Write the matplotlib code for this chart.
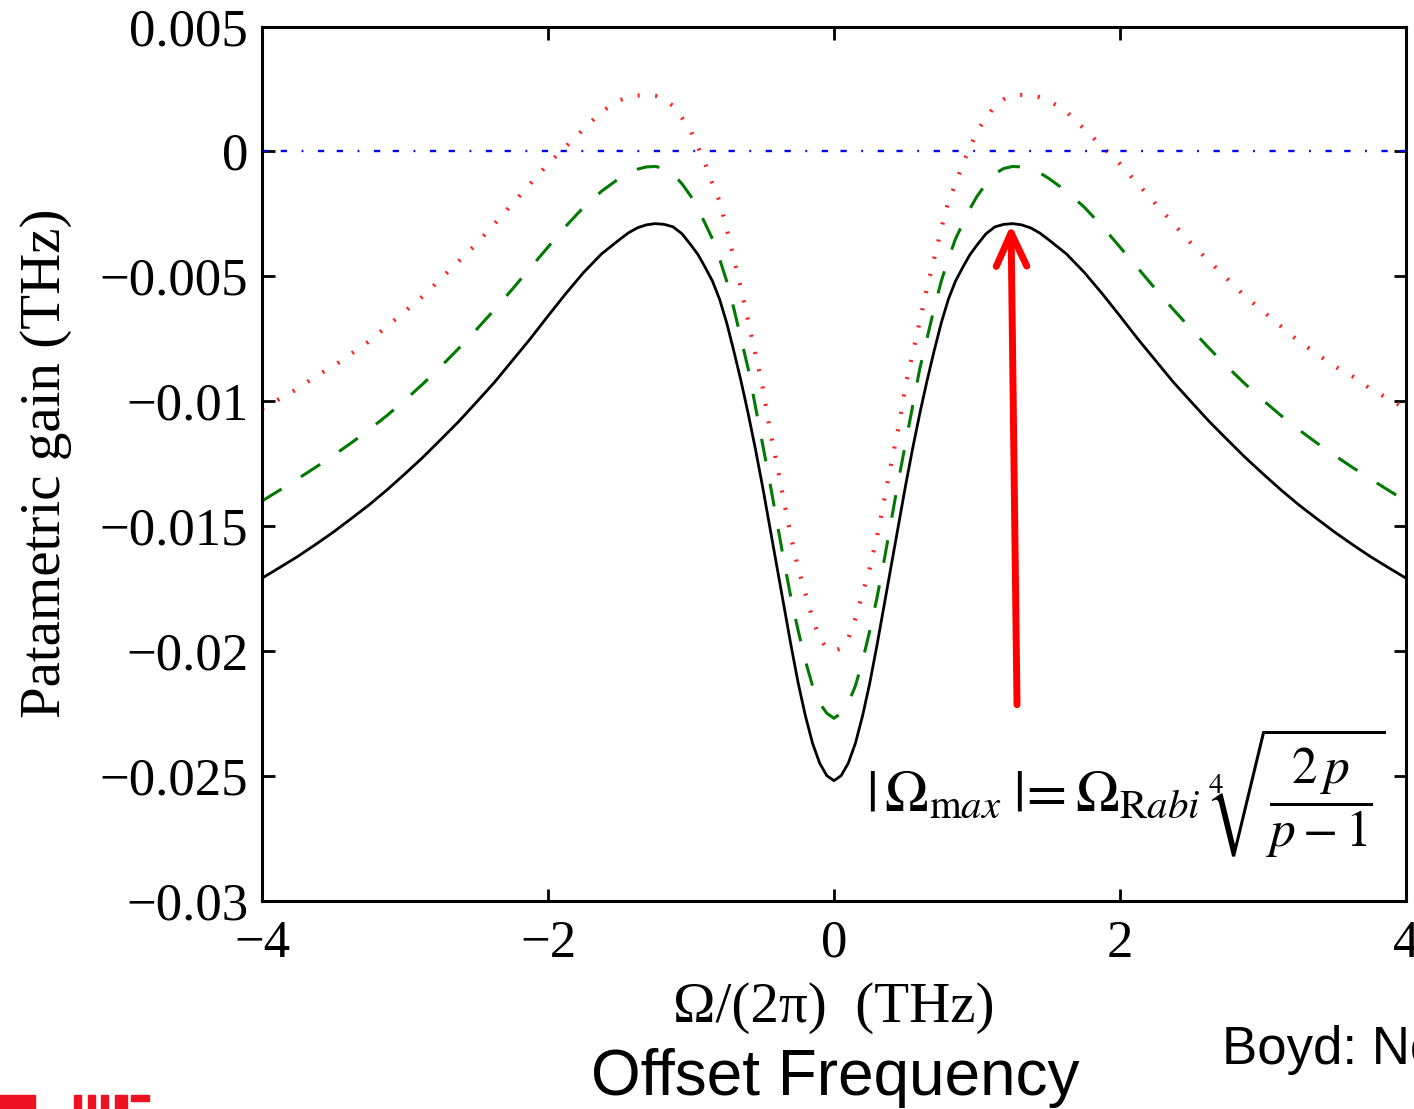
import matplotlib
matplotlib.use("Agg")
import matplotlib.pyplot as plt
from matplotlib.patches import Rectangle

# ---------------- data ----------------
x_thz = [-4.0, -3.875, -3.75, -3.625, -3.5, -3.375, -3.25, -3.125, -3.0, -2.875,
         -2.75, -2.625, -2.5, -2.375, -2.25, -2.125, -2.0, -1.875, -1.75, -1.625,
         -1.5, -1.4375, -1.375, -1.3125, -1.25, -1.1875, -1.125, -1.0625, -1.0, -0.95,
         -0.9, -0.85, -0.8, -0.75, -0.7, -0.65, -0.6, -0.55, -0.5, -0.45,
         -0.4, -0.35, -0.3, -0.25, -0.2, -0.15, -0.1, -0.05,
         0.0,
         0.05, 0.1, 0.15, 0.2, 0.25, 0.3, 0.35, 0.4, 0.45, 0.5,
         0.55, 0.6, 0.65, 0.7, 0.75, 0.8, 0.85, 0.9, 0.95, 1.0,
         1.0625, 1.125, 1.1875, 1.25, 1.3125, 1.375, 1.4375, 1.5, 1.625, 1.75,
         1.875, 2.0, 2.125, 2.25, 2.375, 2.5, 2.625, 2.75, 2.875, 3.0,
         3.125, 3.25, 3.375, 3.5, 3.625, 3.75, 3.875, 4.0]

gain_black = [-0.01709, -0.01666, -0.01622, -0.01574, -0.01524, -0.01470, -0.01415, -0.01355, -0.01291, -0.01225,
              -0.01154, -0.01082, -0.01004, -0.00925, -0.00838, -0.00751, -0.00659, -0.00569, -0.00484, -0.00410,
              -0.00353, -0.00326, -0.00306, -0.00294, -0.00289, -0.00292, -0.00302, -0.00330, -0.00375, -0.00414,
              -0.00465, -0.00519, -0.00592, -0.00687, -0.00800, -0.00920, -0.01050, -0.01190, -0.01340, -0.01500,
              -0.01660, -0.01820, -0.01980, -0.02130, -0.02260, -0.02370, -0.02450, -0.02500,
              -0.02520,
              -0.02500, -0.02450, -0.02370, -0.02260, -0.02130, -0.01980, -0.01820, -0.01660, -0.01500, -0.01340,
              -0.01190, -0.01050, -0.00920, -0.00800, -0.00687, -0.00592, -0.00519, -0.00465, -0.00414, -0.00375,
              -0.00330, -0.00302, -0.00292, -0.00289, -0.00294, -0.00306, -0.00326, -0.00353, -0.00410, -0.00484,
              -0.00569, -0.00659, -0.00751, -0.00838, -0.00925, -0.01004, -0.01082, -0.01154, -0.01225, -0.01291,
              -0.01355, -0.01415, -0.01470, -0.01524, -0.01574, -0.01622, -0.01666, -0.01709]

gain_green = [-0.01400, -0.01356, -0.01311, -0.01265, -0.01217, -0.01167, -0.01114, -0.01057, -0.00996, -0.00931,
              -0.00862, -0.00789, -0.00713, -0.00634, -0.00552, -0.00467, -0.00383, -0.00299, -0.00223, -0.00159,
              -0.00107, -0.00085, -0.00071, -0.00062, -0.00060, -0.00068, -0.00090, -0.00130, -0.00180, -0.00230,
              -0.00290, -0.00350, -0.00430, -0.00520, -0.00630, -0.00750, -0.00870, -0.01020, -0.01170, -0.01320,
              -0.01480, -0.01640, -0.01790, -0.01920, -0.02040, -0.02140, -0.02210, -0.02250,
              -0.02270,
              -0.02250, -0.02210, -0.02140, -0.02040, -0.01920, -0.01790, -0.01640, -0.01480, -0.01320, -0.01170,
              -0.01020, -0.00870, -0.00750, -0.00630, -0.00520, -0.00430, -0.00350, -0.00290, -0.00230, -0.00180,
              -0.00130, -0.00090, -0.00068, -0.00060, -0.00062, -0.00071, -0.00085, -0.00107, -0.00159, -0.00223,
              -0.00299, -0.00383, -0.00467, -0.00552, -0.00634, -0.00713, -0.00789, -0.00862, -0.00931, -0.00996,
              -0.01057, -0.01114, -0.01167, -0.01217, -0.01265, -0.01311, -0.01356, -0.01400]

gain_red = [-0.0103, -0.0099, -0.0095, -0.0090, -0.0086, -0.0081, -0.0076, -0.0070, -0.0064, -0.0058,
            -0.0051, -0.0044, -0.0037, -0.0029, -0.0021, -0.0013, -0.0005, 0.0002, 0.0009, 0.0016,
            0.00205, 0.00217, 0.00224, 0.00226, 0.00223, 0.00209, 0.00182, 0.00134, 0.0008, 0.00015,
            -0.0005, -0.0013, -0.0020, -0.0031, -0.0043, -0.0055, -0.0068, -0.0081, -0.0094, -0.0111,
            -0.0125, -0.0140, -0.01545, -0.0167, -0.0177, -0.0187, -0.0195, -0.0199,
            -0.0200,
            -0.0199, -0.0195, -0.0187, -0.0177, -0.0167, -0.01545, -0.0140, -0.0125, -0.0111, -0.0094,
            -0.0081, -0.0068, -0.0055, -0.0043, -0.0031, -0.0020, -0.0013, -0.0005, 0.00015, 0.0008,
            0.00134, 0.00182, 0.00209, 0.00223, 0.00226, 0.00224, 0.00217, 0.00205, 0.0016, 0.0009,
            0.0002, -0.0005, -0.0013, -0.0021, -0.0029, -0.0037, -0.0044, -0.0051, -0.0058, -0.0064,
            -0.0070, -0.0076, -0.0081, -0.0086, -0.0090, -0.0095, -0.0099, -0.0103]

zero_level = 0.0

x_ticks = [-4, -2, 0, 2, 4]
x_tick_labels = ["\u22124", "\u22122", "0", "2", "4"]
y_ticks = [0.005, 0.0, -0.005, -0.01, -0.015, -0.02, -0.025, -0.03]
y_tick_labels = ["0.005", "0", "\u22120.005", "\u22120.01", "\u22120.015",
                 "\u22120.02", "\u22120.025", "\u22120.03"]

arrow_tip = (1.238, -0.00293)
arrow_tail = (1.280, -0.02216)

assert len(x_thz) == len(gain_black) == len(gain_green) == len(gain_red)

# ---------------- figure ----------------
plt.rcParams["lines.scale_dashes"] = False
plt.rcParams["mathtext.fontset"] = "stix"
serif = ["Liberation Serif", "DejaVu Serif"]

W, H = 1414, 1109
fig = plt.figure(figsize=(W / 100, H / 100), dpi=100)
ax = fig.add_axes([0.1853, 0.188, 0.809, 0.788])

ax.plot(x_thz, gain_black, color="black", lw=2.0, solid_joinstyle="round")
ax.plot(x_thz, gain_green, color="#007a00", lw=2.2, linestyle=(0, (16.5, 16.5)))
ax.plot(x_thz, gain_red, color="#ff2020", lw=3.0, linestyle=(0, (1.5, 11.2)))
ax.axhline(zero_level, color="#0000ff", lw=1.7,
           linestyle=(0, (4.5, 9.0, 4.5, 10.5, 1.3, 10.5)))

ax.set_xlim(-4, 4)
ax.set_ylim(-0.03, 0.005)
ax.set_xticks(x_ticks)
ax.set_xticklabels(x_tick_labels, fontfamily=serif, fontsize=38)
ax.set_yticks(y_ticks)
ax.set_yticklabels(y_tick_labels, fontfamily=serif, fontsize=38)
ax.tick_params(direction="in", length=9, width=2.0, top=True, right=True)
ax.tick_params(axis="y", pad=10)
ax.tick_params(axis="x", pad=14)
for s in ax.spines.values():
    s.set_linewidth(2.2)

ax.set_ylabel("Patametric gain (THz)", fontfamily=serif, fontsize=41, labelpad=20)
ax.set_xlabel("\u03a9/(2\u03c0)  (THz)", fontfamily=serif, fontsize=41, labelpad=10)

ax.annotate("", xy=arrow_tip, xytext=arrow_tail,
            arrowprops=dict(arrowstyle="->,head_length=1.2,head_width=0.55",
                            color="red", lw=5, mutation_scale=20,
                            shrinkA=0, shrinkB=0))

# formula |Omega_max| = Omega_Rabi * 4th-root(2p/(p-1))
fig.text(1201 / W, 1 - 811 / H,
         r"$|\,\Omega_{\mathrm{m}ax}\;|\!=\Omega_{\mathrm{R}abi}$",
         fontsize=42, ha="right", va="baseline")
fig.text(1205 / W, 1 - 793 / H, r"$\sqrt{\dfrac{2\,p}{p-1}}$",
         fontsize=37, ha="left", va="center")
fig.text(1216 / W, 1 - 785 / H, r"$4$", fontsize=21, ha="center", va="center")

fig.text(0.591, 0.028, "Offset Frequency", fontfamily="Liberation Sans",
         fontsize=46, ha="center", va="center")
fig.text(0.864, 0.053, "Boyd: Nonlinear", fontfamily="Liberation Sans",
         fontsize=38, ha="left", va="center")

# decorative red logo fragments at bottom-left
for (x0, y0, w, h) in [(0, 1095, 35, 14), (74, 1095, 7, 14), (88, 1095, 7, 14),
                       (101, 1095, 7, 14), (115, 1095, 12, 14), (131, 1095, 18, 6)]:
    fig.patches.append(Rectangle((x0 / W, 1 - (y0 + h) / H), w / W, h / H,
                                 transform=fig.transFigure, color="#ee1122"))

fig.savefig("out.png", dpi=100)
